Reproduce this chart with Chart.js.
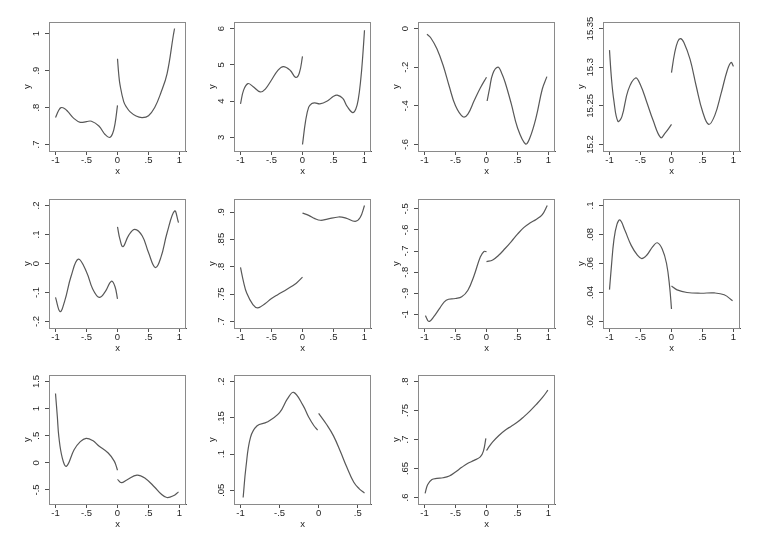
<!DOCTYPE html>
<html><head><meta charset="utf-8">
<script src="https://cdn.jsdelivr.net/npm/chart.js@4.4.1/dist/chart.umd.min.js"></script>
<style>
html,body{margin:0;padding:0;background:#fff;}
#wrap{position:relative;width:761px;height:554px;overflow:hidden;background:#fff;}
#wrap canvas{position:absolute;}
</style></head><body><div id="wrap"></div>
<script>
// ---------- data ----------
const xTicks = [-1, -0.5, 0, 0.5, 1];
const xTickLabels = ["-1", "-.5", "0", ".5", "1"];
const xTicks10 = [-1, -0.5, 0, 0.5];
const xTickLabels10 = ["-1", "-.5", "0", ".5"];

const p1_xL = [-1,-0.95,-0.91,-0.85,-0.8,-0.7,-0.6,-0.5,-0.42,-0.3,-0.2,-0.13,-0.08,-0.04,0];
const p1_yL = [0.773,0.792,0.800,0.797,0.789,0.770,0.760,0.762,0.763,0.750,0.727,0.719,0.729,0.756,0.806];
const p1_xR = [0,0.02,0.04,0.1,0.15,0.2,0.3,0.4,0.5,0.6,0.7,0.8,0.9,0.92];
const p1_yR = [0.932,0.890,0.862,0.816,0.800,0.789,0.777,0.773,0.778,0.800,0.840,0.892,0.995,1.014];
const p1_yTicks = [0.7, 0.8, 0.9, 1];
const p1_yTickLabels = [".7", ".8", ".9", "1"];

const p2_xL = [-1,-0.95,-0.88,-0.8,-0.68,-0.6,-0.5,-0.4,-0.31,-0.2,-0.11,-0.05,0];
const p2_yL = [3.92,4.30,4.48,4.40,4.25,4.33,4.58,4.84,4.95,4.85,4.65,4.78,5.23];
const p2_xR = [0,0.05,0.1,0.15,0.2,0.28,0.4,0.5,0.56,0.65,0.72,0.81,0.86,0.9,0.94,0.97,1];
const p2_yR = [2.80,3.45,3.83,3.93,3.95,3.92,4.00,4.13,4.16,4.07,3.85,3.68,3.78,4.05,4.60,5.20,5.95];
const p2_yTicks = [3, 4, 5, 6];
const p2_yTickLabels = ["3", "4", "5", "6"];

const p3_xL = [-0.96,-0.9,-0.8,-0.7,-0.6,-0.5,-0.38,-0.3,-0.2,-0.1,0];
const p3_yL = [-0.03,-0.048,-0.105,-0.19,-0.30,-0.40,-0.457,-0.443,-0.374,-0.308,-0.252];
const p3_xR = [0.01,0.05,0.1,0.185,0.25,0.3,0.4,0.5,0.63,0.7,0.8,0.9,0.974];
const p3_yR = [-0.375,-0.31,-0.235,-0.20,-0.235,-0.278,-0.39,-0.513,-0.597,-0.565,-0.46,-0.313,-0.249];
const p3_yTicks = [-0.6, -0.4, -0.2, 0];
const p3_yTickLabels = ["-.6", "-.4", "-.2", "0"];

const p4_xL = [-1,-0.97,-0.93,-0.865,-0.8,-0.7,-0.58,-0.5,-0.4,-0.3,-0.175,-0.1,0];
const p4_yL = [15.322,15.287,15.257,15.230,15.236,15.270,15.286,15.277,15.255,15.232,15.209,15.215,15.226];
const p4_xR = [0,0.05,0.1,0.145,0.2,0.3,0.4,0.5,0.6,0.7,0.8,0.9,0.96,1];
const p4_yR = [15.293,15.318,15.333,15.337,15.332,15.310,15.275,15.243,15.226,15.238,15.266,15.296,15.306,15.301];
const p4_yTicks = [15.2, 15.25, 15.3, 15.35];
const p4_yTickLabels = ["15.2", "15.25", "15.3", "15.35"];

const p5_xL = [-1,-0.925,-0.85,-0.75,-0.632,-0.5,-0.4,-0.296,-0.2,-0.099,-0.04,0];
const p5_yL = [-0.117,-0.166,-0.128,-0.045,0.015,-0.029,-0.088,-0.117,-0.098,-0.061,-0.08,-0.122];
const p5_xR = [0,0.04,0.088,0.18,0.28,0.4,0.5,0.61,0.7,0.8,0.92,0.984];
const p5_yR = [0.126,0.083,0.058,0.097,0.118,0.095,0.038,-0.014,0.021,0.106,0.181,0.141];
const p5_yTicks = [-0.2, -0.1, 0, 0.1, 0.2];
const p5_yTickLabels = ["-.2", "-.1", "0", ".1", ".2"];

const p6_xL = [-1,-0.95,-0.9,-0.8,-0.72,-0.6,-0.5,-0.4,-0.25,-0.1,0];
const p6_yL = [0.799,0.772,0.752,0.731,0.725,0.733,0.742,0.749,0.759,0.770,0.781];
const p6_xR = [0,0.1,0.2,0.29,0.4,0.58,0.7,0.85,0.93,1];
const p6_yR = [0.898,0.894,0.888,0.885,0.887,0.891,0.889,0.883,0.890,0.912];
const p6_yTicks = [0.7, 0.75, 0.8, 0.85, 0.9];
const p6_yTickLabels = [".7", ".75", ".8", ".85", ".9"];

const p7_xL = [-0.985,-0.93,-0.85,-0.75,-0.65,-0.5,-0.4,-0.3,-0.2,-0.1,-0.04,0];
const p7_yL = [-1.006,-1.034,-1.011,-0.969,-0.933,-0.925,-0.917,-0.886,-0.816,-0.728,-0.702,-0.703];
const p7_xR = [0,0.1,0.2,0.3,0.4,0.5,0.6,0.7,0.8,0.9,0.98];
const p7_yR = [-0.75,-0.742,-0.719,-0.688,-0.655,-0.62,-0.589,-0.567,-0.550,-0.527,-0.484];
const p7_yTicks = [-1, -0.9, -0.8, -0.7, -0.6, -0.5];
const p7_yTickLabels = ["-1", "-.9", "-.8", "-.7", "-.6", "-.5"];

const p8_xL = [-1,-0.97,-0.93,-0.88,-0.83,-0.75,-0.65,-0.55,-0.48,-0.4,-0.3,-0.23,-0.15,-0.08,-0.03,0];
const p8_yL = [0.042,0.0577,0.076,0.087,0.090,0.0827,0.0725,0.0657,0.0634,0.0657,0.0718,0.0743,0.070,0.060,0.044,0.0286];
const p8_xR = [0,0.09,0.25,0.47,0.69,0.85,0.985];
const p8_yR = [0.0445,0.0418,0.0400,0.0395,0.0397,0.0384,0.0343];
const p8_yTicks = [0.02, 0.04, 0.06, 0.08, 0.1];
const p8_yTickLabels = [".02", ".04", ".06", ".08", ".1"];

const p9_xL = [-1,-0.97,-0.946,-0.89,-0.823,-0.7,-0.6,-0.507,-0.4,-0.3,-0.15,-0.05,0];
const p9_yL = [1.28,0.845,0.48,0.088,-0.064,0.24,0.39,0.452,0.41,0.31,0.18,0.027,-0.136];
const p9_xR = [0,0.062,0.15,0.314,0.45,0.6,0.7,0.796,0.9,0.984];
const p9_yR = [-0.306,-0.367,-0.318,-0.227,-0.29,-0.45,-0.57,-0.64,-0.609,-0.536];
const p9_yTicks = [-0.5, 0, 0.5, 1, 1.5];
const p9_yTickLabels = ["-.5", "0", ".5", "1", "1.5"];

const p10_xL = [-0.966,-0.93,-0.872,-0.787,-0.66,-0.5,-0.4,-0.319,-0.2,-0.128,-0.06,-0.013];
const p10_yL = [0.040,0.082,0.123,0.139,0.144,0.157,0.176,0.185,0.167,0.151,0.139,0.133];
const p10_xR = [0,0.1,0.19,0.28,0.36,0.45,0.52,0.587];
const p10_yR = [0.156,0.141,0.125,0.103,0.082,0.061,0.052,0.046];
const p10_yTicks = [0.05, 0.1, 0.15, 0.2];
const p10_yTickLabels = [".05", ".1", ".15", ".2"];

const p11_xL = [-0.99,-0.95,-0.88,-0.8,-0.7,-0.6,-0.5,-0.4,-0.3,-0.2,-0.1,-0.05,-0.01];
const p11_yL = [0.607,0.622,0.631,0.633,0.634,0.637,0.644,0.652,0.659,0.664,0.670,0.680,0.702];
const p11_xR = [0,0.05,0.1,0.2,0.3,0.4,0.5,0.6,0.7,0.8,0.9,0.99];
const p11_yR = [0.681,0.689,0.696,0.707,0.716,0.723,0.730,0.739,0.749,0.760,0.772,0.785];
const p11_yTicks = [0.6, 0.65, 0.7, 0.75, 0.8];
const p11_yTickLabels = [".6", ".65", ".7", ".75", ".8"];

const panels = [
  {xL:p1_xL,yL:p1_yL,xR:p1_xR,yR:p1_yR,yt:p1_yTicks,ytl:p1_yTickLabels,xt:xTicks,xtl:xTickLabels},
  {xL:p2_xL,yL:p2_yL,xR:p2_xR,yR:p2_yR,yt:p2_yTicks,ytl:p2_yTickLabels,xt:xTicks,xtl:xTickLabels},
  {xL:p3_xL,yL:p3_yL,xR:p3_xR,yR:p3_yR,yt:p3_yTicks,ytl:p3_yTickLabels,xt:xTicks,xtl:xTickLabels},
  {xL:p4_xL,yL:p4_yL,xR:p4_xR,yR:p4_yR,yt:p4_yTicks,ytl:p4_yTickLabels,xt:xTicks,xtl:xTickLabels},
  {xL:p5_xL,yL:p5_yL,xR:p5_xR,yR:p5_yR,yt:p5_yTicks,ytl:p5_yTickLabels,xt:xTicks,xtl:xTickLabels},
  {xL:p6_xL,yL:p6_yL,xR:p6_xR,yR:p6_yR,yt:p6_yTicks,ytl:p6_yTickLabels,xt:xTicks,xtl:xTickLabels},
  {xL:p7_xL,yL:p7_yL,xR:p7_xR,yR:p7_yR,yt:p7_yTicks,ytl:p7_yTickLabels,xt:xTicks,xtl:xTickLabels},
  {xL:p8_xL,yL:p8_yL,xR:p8_xR,yR:p8_yR,yt:p8_yTicks,ytl:p8_yTickLabels,xt:xTicks,xtl:xTickLabels},
  {xL:p9_xL,yL:p9_yL,xR:p9_xR,yR:p9_yR,yt:p9_yTicks,ytl:p9_yTickLabels,xt:xTicks,xtl:xTickLabels},
  {xL:p10_xL,yL:p10_yL,xR:p10_xR,yR:p10_yR,yt:p10_yTicks,ytl:p10_yTickLabels,xt:xTicks10,xtl:xTickLabels10},
  {xL:p11_xL,yL:p11_yL,xR:p11_xR,yR:p11_yR,yt:p11_yTicks,ytl:p11_yTickLabels,xt:xTicks,xtl:xTickLabels}
];

// ---------- layout / style ----------
const BOX_LEFTS = [49, 234, 418, 603];
const BOX_TOPS = [22, 199, 375];
const BW = 137, BH = 129;
const AX_W = 45, PAD_T = 20, PAD_R = 8, AX_H = 28;
const MARGIN = 6.5;
const FONT_FAMILY = "'Liberation Sans', Arial, Helvetica, sans-serif";
const FONT_SIZE = 9.5;
const TEXT_COLOR = '#1e1e1e';
const LINE_COLOR = '#585858';
const AXIS_COLOR = '#505050';
const FRAME_COLOR = '#8a8a8a';

const measureCtx = document.createElement('canvas').getContext('2d');
measureCtx.font = FONT_SIZE + 'px ' + FONT_FAMILY;

function paddedRange(ticks, a, b, px) {
  const vals = a.concat(b);
  const lo = Math.min(ticks[0], ...vals);
  const hi = Math.max(ticks[ticks.length - 1], ...vals);
  const pad = (hi - lo) * MARGIN / (px - 2 * MARGIN);
  return [lo - pad, hi + pad];
}

const framePlugin = {
  id: 'frame',
  beforeDatasetsDraw(chart) {
    const a = chart.chartArea, ctx = chart.ctx;
    ctx.save();
    ctx.strokeStyle = FRAME_COLOR;
    ctx.lineWidth = 1;
    ctx.strokeRect(Math.round(a.left) + 0.5, Math.round(a.top) + 0.5,
                   Math.round(a.right - a.left) - 1, Math.round(a.bottom - a.top));
    ctx.restore();
  }
};

const wrap = document.getElementById('wrap');
panels.forEach((p, i) => {
  const col = i % 4, row = Math.floor(i / 4);
  const cv = document.createElement('canvas');
  const W = AX_W + BW + PAD_R, H = PAD_T + BH + AX_H;
  cv.width = W; cv.height = H;
  cv.style.width = W + 'px'; cv.style.height = H + 'px';
  cv.style.left = (BOX_LEFTS[col] - AX_W) + 'px';
  cv.style.top = (BOX_TOPS[row] - PAD_T) + 'px';
  wrap.appendChild(cv);

  const [xmin, xmax] = paddedRange(p.xt, p.xL, p.xR, BW);
  const [ymin, ymax] = paddedRange(p.yt, p.yL, p.yR, BH);
  const widest = Math.max(...p.ytl.map(s => measureCtx.measureText(s).width));
  const yTickPadding = 8.5 - widest / 2;
  const font = {family: FONT_FAMILY, size: FONT_SIZE};

  const ds = (xs, ys) => ({
    data: xs.map((x, k) => ({x: x, y: ys[k]})),
    borderColor: LINE_COLOR, borderWidth: 1.2, pointRadius: 0,
    tension: 0.4, fill: false
  });

  new Chart(cv, {
    type: 'line',
    data: {datasets: [ds(p.xL, p.yL), ds(p.xR, p.yR)]},
    options: {
      responsive: false, animation: false, devicePixelRatio: 1,
      layout: {padding: {left: 0, top: PAD_T, right: PAD_R, bottom: 0}},
      plugins: {legend: {display: false}, tooltip: {enabled: false}},
      scales: {
        x: {
          type: 'linear', min: xmin, max: xmax,
          afterBuildTicks: s => { s.ticks = p.xt.map(v => ({value: v})); },
          afterFit: s => { s.height = AX_H; },
          ticks: {autoSkip: false, maxRotation: 0, minRotation: 0, padding: 0,
                  color: TEXT_COLOR, font: font, callback: (v, k) => p.xtl[k]},
          grid: {drawOnChartArea: false, drawTicks: true, tickLength: 4, color: AXIS_COLOR},
          border: {display: true, color: AXIS_COLOR, width: 1},
          title: {display: true, text: 'x', color: TEXT_COLOR, font: font, padding: {top: 0, bottom: 1.6}}
        },
        y: {
          type: 'linear', min: ymin, max: ymax,
          afterBuildTicks: s => { s.ticks = p.yt.map(v => ({value: v})); },
          afterFit: s => { s.width = AX_W; },
          ticks: {autoSkip: false, minRotation: 90, maxRotation: 90, crossAlign: 'center',
                  padding: yTickPadding, color: TEXT_COLOR, font: font,
                  callback: (v, k) => p.ytl[k]},
          grid: {drawOnChartArea: false, drawTicks: true, tickLength: 4, color: AXIS_COLOR},
          border: {display: true, color: AXIS_COLOR, width: 1},
          title: {display: true, text: 'y', color: TEXT_COLOR, font: font, padding: {top: 17.3, bottom: 0}}
        }
      }
    },
    plugins: [framePlugin]
  });
});
</script>
</body></html>
